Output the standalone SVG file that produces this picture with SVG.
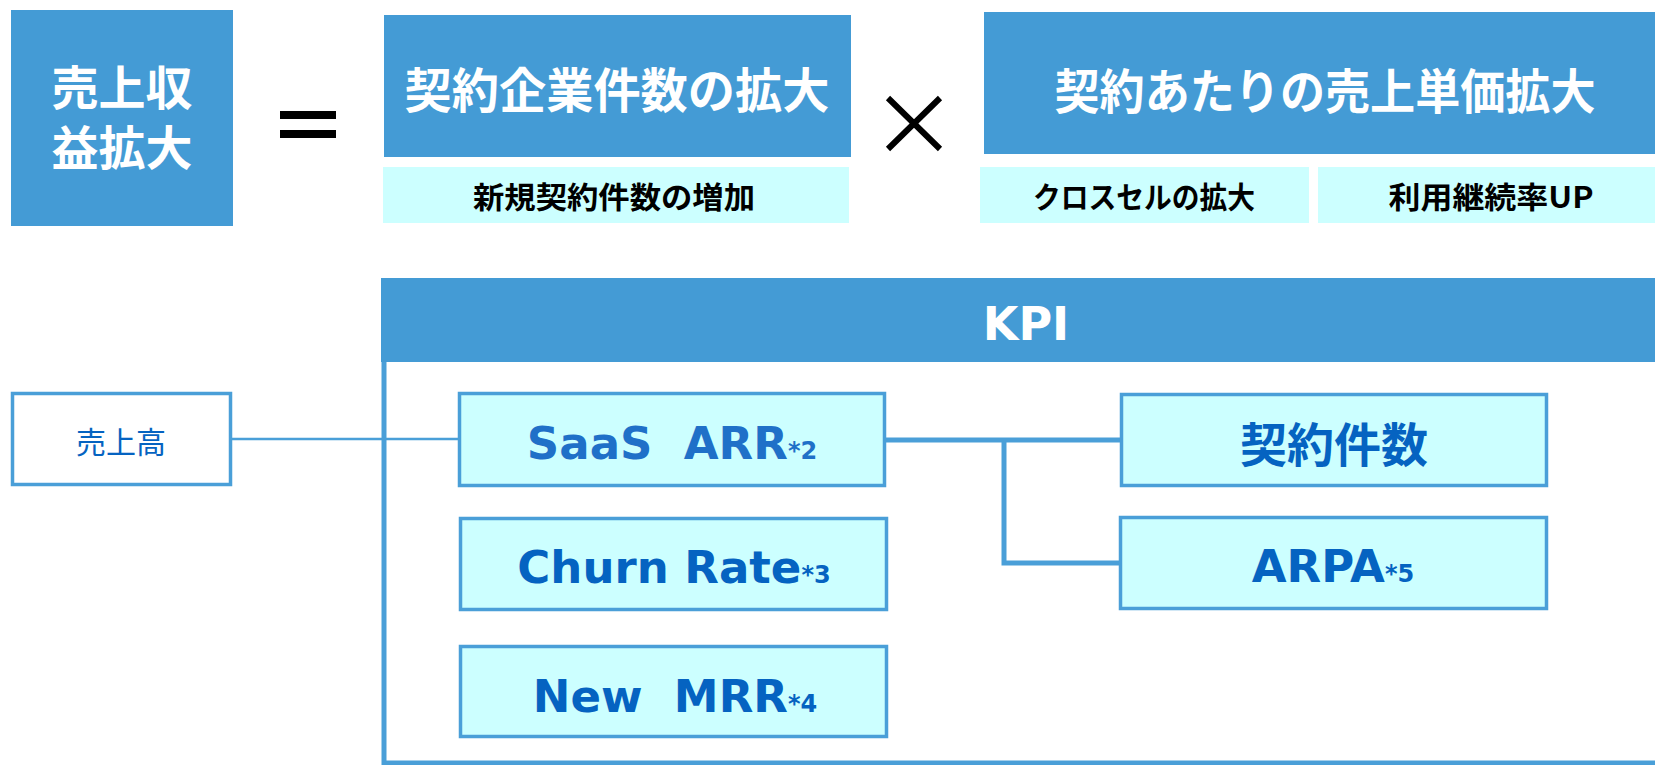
<svg xmlns="http://www.w3.org/2000/svg" width="1655" height="765" viewBox="0 0 1655 765">
  <style>
    .hdr { fill: #449BD5; }
    .sub { fill: #CCFFFF; }
    .kbox { fill: #CCFFFF; stroke: #4A9FD8; stroke-width: 3.5; }
    .wt { fill: #FFFFFF; font-family: "Noto Sans CJK JP", "Noto Sans", sans-serif; font-weight: 700; }
    .bt { fill: #000000; font-family: "Noto Sans CJK JP", "Noto Sans", sans-serif; font-weight: 700; font-size: 30px; }
    .lat { font-family: "DejaVu Sans", "Noto Sans CJK JP", sans-serif; font-weight: 700; font-size: 45px; fill: #0563C1; }
    .sm { font-size: 24px; }
    .conn { fill: none; stroke: #4A9FD8; }
  </style>
  <rect width="1655" height="765" fill="#FFFFFF"/>

  <g id="revenue">
    <rect class="hdr" x="11" y="10" width="222" height="216"/>
    <text class="wt" font-size="47" text-anchor="middle"><tspan x="122" y="105">売上収</tspan><tspan x="122" y="165">益拡大</tspan></text>
  </g>

  <g id="equals">
    <rect x="280" y="111" width="56" height="8" fill="#000000"/>
    <rect x="280" y="130" width="56" height="8" fill="#000000"/>
  </g>

  <g id="contracts">
    <rect class="hdr" x="384" y="15" width="467" height="142"/>
    <text class="wt" font-size="48" text-anchor="middle" dominant-baseline="central" x="617" y="87" textLength="425" lengthAdjust="spacingAndGlyphs">契約企業件数の拡大</text>
    <rect class="sub" x="383" y="167" width="466" height="56"/>
    <text class="bt" text-anchor="middle" dominant-baseline="central" x="614" y="195" textLength="282" lengthAdjust="spacingAndGlyphs">新規契約件数の増加</text>
  </g>

  <g id="times">
    <path d="M888,98 L940,149 M940,98 L888,149" stroke="#000000" stroke-width="6" fill="none"/>
  </g>

  <g id="unitprice">
    <rect class="hdr" x="984" y="12" width="671" height="142"/>
    <text class="wt" font-size="48" text-anchor="middle" dominant-baseline="central" x="1325" y="88" textLength="541" lengthAdjust="spacingAndGlyphs">契約あたりの売上単価拡大</text>
    <rect class="sub" x="980" y="167" width="329" height="56"/>
    <text class="bt" text-anchor="middle" dominant-baseline="central" x="1144" y="195" textLength="222" lengthAdjust="spacingAndGlyphs">クロスセルの拡大</text>
    <rect class="sub" x="1318" y="167" width="337" height="56"/>
    <text class="bt" text-anchor="middle" dominant-baseline="central" x="1491" y="195" textLength="205" lengthAdjust="spacingAndGlyphs">利用継続率UP</text>
  </g>

  <g id="kpi">
    <path class="conn" stroke-width="5" d="M384,355 V763 H1660"/>
    <rect class="hdr" x="381" y="278" width="1274" height="84"/>
    <text x="1026" y="340" text-anchor="middle" font-family="DejaVu Sans, sans-serif" font-weight="700" font-size="46" fill="#FFFFFF">KPI</text>
  </g>

  <g id="connectors">
    <line class="conn" stroke-width="2.5" x1="232" y1="439" x2="458" y2="439"/>
    <path class="conn" stroke-width="5" d="M886,440 H1120"/>
    <path class="conn" stroke-width="5" d="M1004,440 V563 H1119"/>
  </g>

  <g id="sales">
    <rect x="12.5" y="393.5" width="218" height="91" fill="#FFFFFF" stroke="#4A9FD8" stroke-width="3.5"/>
    <text x="121" y="440" text-anchor="middle" dominant-baseline="central" font-family="Noto Sans CJK JP, sans-serif" font-size="30" fill="#0563C1">売上高</text>
  </g>

  <g id="saas-arr">
    <rect class="kbox" x="459.5" y="393.5" width="425" height="92"/>
    <text class="lat" x="672" y="459" text-anchor="middle" style="fill:#1F70C8" xml:space="preserve">SaaS  ARR<tspan class="sm">*2</tspan></text>
  </g>

  <g id="churn-rate">
    <rect class="kbox" x="460.5" y="518.5" width="426" height="91"/>
    <text class="lat" x="674" y="583" text-anchor="middle">Churn Rate<tspan class="sm">*3</tspan></text>
  </g>

  <g id="new-mrr">
    <rect class="kbox" x="460.5" y="646.5" width="426" height="90"/>
    <text class="lat" x="675" y="712" text-anchor="middle" xml:space="preserve">New  MRR<tspan class="sm">*4</tspan></text>
  </g>

  <g id="contract-count">
    <rect class="kbox" x="1121.5" y="394.5" width="425" height="91"/>
    <text x="1334" y="441" text-anchor="middle" dominant-baseline="central" font-family="Noto Sans CJK JP, sans-serif" font-weight="700" font-size="47" fill="#0563C1">契約件数</text>
  </g>

  <g id="arpa">
    <rect class="kbox" x="1120.5" y="517.5" width="426" height="91"/>
    <text class="lat" x="1333" y="582" text-anchor="middle">ARPA<tspan class="sm">*5</tspan></text>
  </g>
</svg>
